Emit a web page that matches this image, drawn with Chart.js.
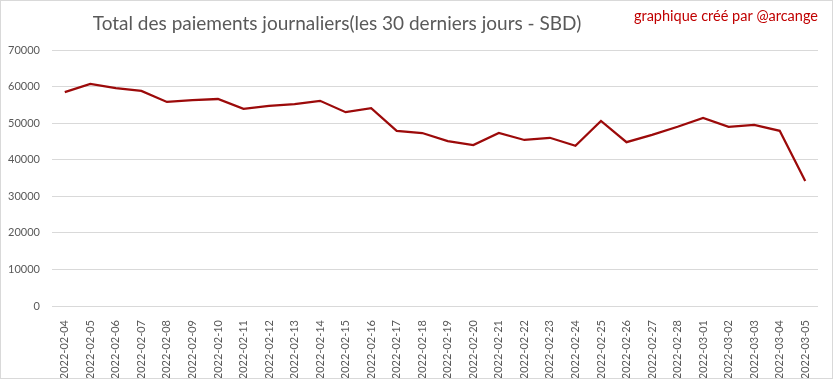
<!DOCTYPE html>
<html>
<head>
<meta charset="utf-8">
<script src="https://cdn.jsdelivr.net/npm/chart.js@4"></script>
<style>
  html, body { margin: 0; padding: 0; background: #fff; }
  #wrap { position: relative; width: 833px; height: 379px; }
  #frame { position: absolute; left: 0; top: 0; width: 831px; height: 377px; border: 1px solid #d9d9d9; pointer-events: none; }
</style>
</head>
<body>
<div id="wrap">
  <canvas id="chart" width="833" height="379"></canvas>
  <div id="frame"></div>
</div>
<script>
  /* ---------- Data ---------- */

  const days = [
    '2022-02-04', '2022-02-05', '2022-02-06', '2022-02-07', '2022-02-08',
    '2022-02-09', '2022-02-10', '2022-02-11', '2022-02-12', '2022-02-13',
    '2022-02-14', '2022-02-15', '2022-02-16', '2022-02-17', '2022-02-18',
    '2022-02-19', '2022-02-20', '2022-02-21', '2022-02-22', '2022-02-23',
    '2022-02-24', '2022-02-25', '2022-02-26', '2022-02-27', '2022-02-28',
    '2022-03-01', '2022-03-02', '2022-03-03', '2022-03-04', '2022-03-05',
  ];

  const payouts = [
    58500, 60700, 59600, 58800, 55800,
    56300, 56600, 53900, 54700, 55200,
    56100, 53000, 54100, 47900, 47300,
    45100, 44000, 47300, 45400, 46000,
    43800, 50600, 44800, 46800, 49000,
    51400, 49000, 49500, 47900, 34200,
  ];

  const yTicks = [0, 10000, 20000, 30000, 40000, 50000, 60000, 70000];

  const titleText = 'Total des paiements journaliers(les 30 derniers jours - SBD)';
  const creditText = 'graphique créé par @arcange';

  const FONT = "Lato, 'Open Sans', sans-serif";

  /* ---------- Title + credit plugin ---------- */

  const headerPlugin = {
    id: 'header',
    afterDraw(chart) {
      const ctx = chart.ctx;
      ctx.save();
      ctx.textBaseline = 'middle';
      ctx.fillStyle = '#595959';
      ctx.font = '19px ' + FONT;
      ctx.textAlign = 'center';
      ctx.fillText(titleText, 337, 24);
      ctx.fillStyle = '#c00000';
      ctx.font = '14.5px ' + FONT;
      ctx.textAlign = 'right';
      ctx.fillText(creditText, 818, 16);
      ctx.restore();
    },
  };

  /* ---------- Chart ---------- */

  new Chart(document.getElementById('chart'), {
    type: 'line',
    data: {
      labels: days,
      datasets: [
        {
          data: payouts,
          borderColor: '#9c0a0a',
          borderWidth: 2.25,
          pointRadius: 0,
          tension: 0,
          fill: false,
        },
      ],
    },
    options: {
      responsive: false,
      animation: false,
      layout: { padding: { top: 50, right: 15, bottom: 0, left: 0 } },
      scales: {
        x: {
          offset: true,
          grid: { display: false },
          border: { display: false },
          afterFit: (s) => { s.height = 73; },
          ticks: {
            autoSkip: false,
            minRotation: 90,
            maxRotation: 90,
            padding: 6,
            color: '#595959',
            font: { family: FONT, size: 11 },
          },
        },
        y: {
          min: 0,
          max: 70000,
          afterFit: (s) => { s.width = 52; },
          afterBuildTicks: (s) => { s.ticks = yTicks.map((v) => ({ value: v })); },
          grid: { color: '#d9d9d9', drawTicks: false, lineWidth: 1 },
          border: { display: false },
          ticks: {
            padding: 12,
            color: '#595959',
            font: { family: FONT, size: 11 },
            callback: (v) => String(v),
          },
        },
      },
      plugins: {
        legend: { display: false },
        tooltip: { enabled: false },
      },
    },
    plugins: [headerPlugin],
  });
</script>
</body>
</html>
